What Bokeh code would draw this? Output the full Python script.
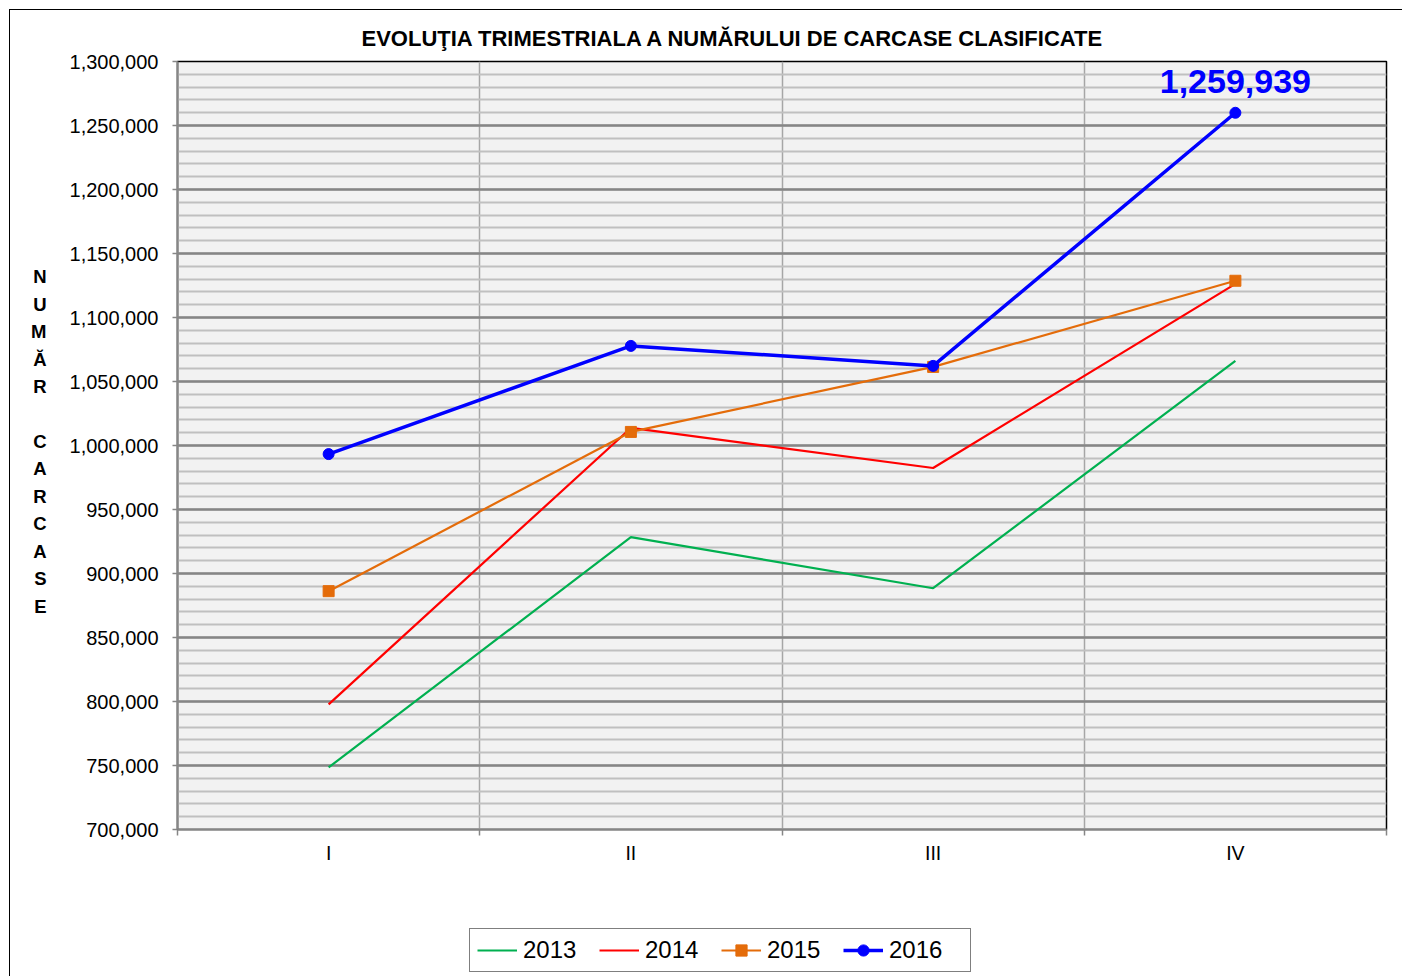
from bokeh.plotting import figure
from bokeh.layouts import column
from bokeh.models import (Range1d, FixedTicker, SingleIntervalTicker, NumeralTickFormatter,
                          Legend, LegendItem, LinearAxis)
from bokeh.embed import file_html
from bokeh.resources import INLINE
from bokeh.core.properties import value

# ---------------- data ----------------
quarters = ["I", "II", "III", "IV"]
y2013 = [748500, 928400, 888500, 1066100]
y2014 = [797800, 1013700, 982400, 1126300]
y2015 = [886200, 1010600, 1061400, 1128700]
y2016 = [993300, 1077800, 1062200, 1259939]
series_names = ["2013", "2014", "2015", "2016"]
title_text = "EVOLUŢIA TRIMESTRIALA  A NUMĂRULUI DE CARCASE CLASIFICATE"
y_title = "NUMĂR CARCASE"
highlight_label = "1,259,939"

FONT = "Liberation Sans"

# category centre positions (derived from the category list)
xs = [i + 0.5 for i in range(len(quarters))]

# ---------------- layout (page px) ----------------
CANVAS_X, CANVAS_Y = 10.5, 10.5
FRAME_L, FRAME_T, FRAME_R, FRAME_B = 178, 62, 1386, 829
W, H = 1392, 870
LEG_H = 96

p = figure(width=W, height=H, output_backend="svg", toolbar_location=None,
           x_range=Range1d(0, len(quarters)), y_range=Range1d(700000, 1300000),
           min_border_left=int(FRAME_L - CANVAS_X), min_border_top=int(FRAME_T - CANVAS_Y),
           min_border_right=int(W - (FRAME_R - CANVAS_X)),
           min_border_bottom=int(H - (FRAME_B - CANVAS_Y)))

p.background_fill_color = "#f2f2f2"
p.border_fill_color = "#ffffff"
p.outline_line_color = "#000000"
p.outline_line_width = 1.5

# ---- title ----
p.title.text = title_text
p.title.align = "left"
p.title.offset = 362 - FRAME_L
p.title.text_font = FONT
p.title.text_font_style = "bold"
p.title.text_font_size = "22px"
p.title.text_color = "#000000"
p.title.standoff = 22

# ---- y axis ----
yax = p.yaxis[0]
yax.ticker = SingleIntervalTicker(interval=50000, num_minor_ticks=5)
yax.formatter = NumeralTickFormatter(format="0,0")
yax.axis_line_color = "#868686"
yax.axis_line_width = 2
yax.major_tick_line_color = "#868686"
yax.major_tick_line_width = 1.5
yax.major_tick_out = 5
yax.major_tick_in = 0
yax.minor_tick_line_color = None
yax.major_label_text_font = FONT
yax.major_label_text_font_size = "20px"
yax.major_label_text_color = "#000000"
yax.major_label_standoff = 14

# ---- stacked vertical axis title, drawn as a label-only axis ----
frame_h = FRAME_B - FRAME_T
p.extra_y_ranges = {"letters": Range1d(0, frame_h)}
letter_ticks = []
letter_map = {}
for i, ch in enumerate(y_title):
    if ch != " ":
        pos = FRAME_B - (277 + i * 27.4)
        letter_ticks.append(pos)
        letter_map[pos] = ch
lax = LinearAxis(y_range_name="letters", ticker=FixedTicker(ticks=letter_ticks, minor_ticks=[]),
                 major_label_overrides=letter_map, axis_line_color=None,
                 major_tick_line_color=None, minor_tick_line_color=None,
                 major_tick_out=0, major_tick_in=0, major_label_standoff=20,
                 major_label_text_font=FONT, major_label_text_font_style="bold",
                 major_label_text_font_size="18.5px", major_label_text_color="#000000")
p.add_layout(lax, "left")

# ---- x axis ----
xax = p.xaxis[0]
xax.ticker = FixedTicker(ticks=xs, minor_ticks=list(range(len(quarters) + 1)))
xax.major_label_overrides = {x: q for x, q in zip(xs, quarters)}
xax.axis_line_color = "#868686"
xax.axis_line_width = 2
xax.major_tick_line_color = None
xax.major_tick_out = 0
xax.major_tick_in = 0
xax.minor_tick_line_color = "#868686"
xax.minor_tick_line_width = 1.5
xax.minor_tick_out = 6
xax.minor_tick_in = 0
xax.major_label_text_font = FONT
xax.major_label_text_font_size = "19.5px"
xax.major_label_text_color = "#000000"
xax.major_label_standoff = 6

# ---- grids ----
p.xgrid.ticker = FixedTicker(ticks=list(range(1, len(quarters))))
p.xgrid.grid_line_color = "#a6a6a6"
p.xgrid.grid_line_width = 1.5
p.ygrid.grid_line_color = "#868686"
p.ygrid.grid_line_width = 2.5
p.ygrid.minor_grid_line_color = "#c0c0c0"
p.ygrid.minor_grid_line_width = 2
p.ygrid.level = "underlay"
p.xgrid.level = "underlay"

# ---- series ----
styles = [
    dict(color="#00b050", width=2.2, marker=None),
    dict(color="#ff0000", width=2.2, marker=None),
    dict(color="#e46c0a", width=2.2, marker="square"),
    dict(color="#0000ff", width=3.5, marker="circle"),
]
series = [y2013, y2014, y2015, y2016]


def draw(fig, ys, st, visible=True):
    rs = [fig.line(xs, ys, line_color=st["color"], line_width=st["width"], visible=visible)]
    if st["marker"]:
        rs.append(fig.scatter(xs, ys, marker=st["marker"], size=11, fill_color=st["color"],
                              line_color=st["color"], visible=visible))
    return rs


for ys, st in zip(series, styles):
    draw(p, ys, st)

# highlight label for last 2016 value
p.text(x=[xs[-1]], y=[y2016[-1]], text=[highlight_label], text_font=value(FONT),
       text_font_style="bold", text_font_size="34px", text_color="#0000ff",
       text_align="center", text_baseline="alphabetic", y_offset=-31)

# ---- legend strip (separate figure under the chart) ----
pl = figure(width=W, height=LEG_H, output_backend="svg", toolbar_location=None,
            x_range=p.x_range, y_range=p.y_range,
            min_border_left=0, min_border_right=0, min_border_top=0, min_border_bottom=0)
pl.axis.visible = False
pl.grid.visible = False
pl.outline_line_color = None
pl.background_fill_color = "#ffffff"
items = []
for name, ys, st in zip(series_names, series, styles):
    items.append(LegendItem(label=name, renderers=draw(pl, ys, st, visible=False)))
leg_bottom_page = 972
canvas2_bottom = CANVAS_Y + H + LEG_H
legend = Legend(items=items, orientation="horizontal",
                location=(470 - FRAME_L, canvas2_bottom - leg_bottom_page),
                label_text_font=FONT, label_text_font_size="24px", label_text_color="#000000",
                glyph_width=40, glyph_height=28, label_standoff=6, label_width=74, spacing=2,
                padding=7, margin=0, border_line_color="#000000", border_line_width=1.5,
                background_fill_color="#ffffff", background_fill_alpha=1.0,
                click_policy="none")
pl.add_layout(legend, "center")

layout = column(p, pl, spacing=0)
layout.styles = {"border-left": "1.5px solid #000000", "border-top": "1.5px solid #000000",
                 "margin-left": "9px", "margin-top": "9px"}

open("out.html", "w").write(file_html(layout, INLINE))
